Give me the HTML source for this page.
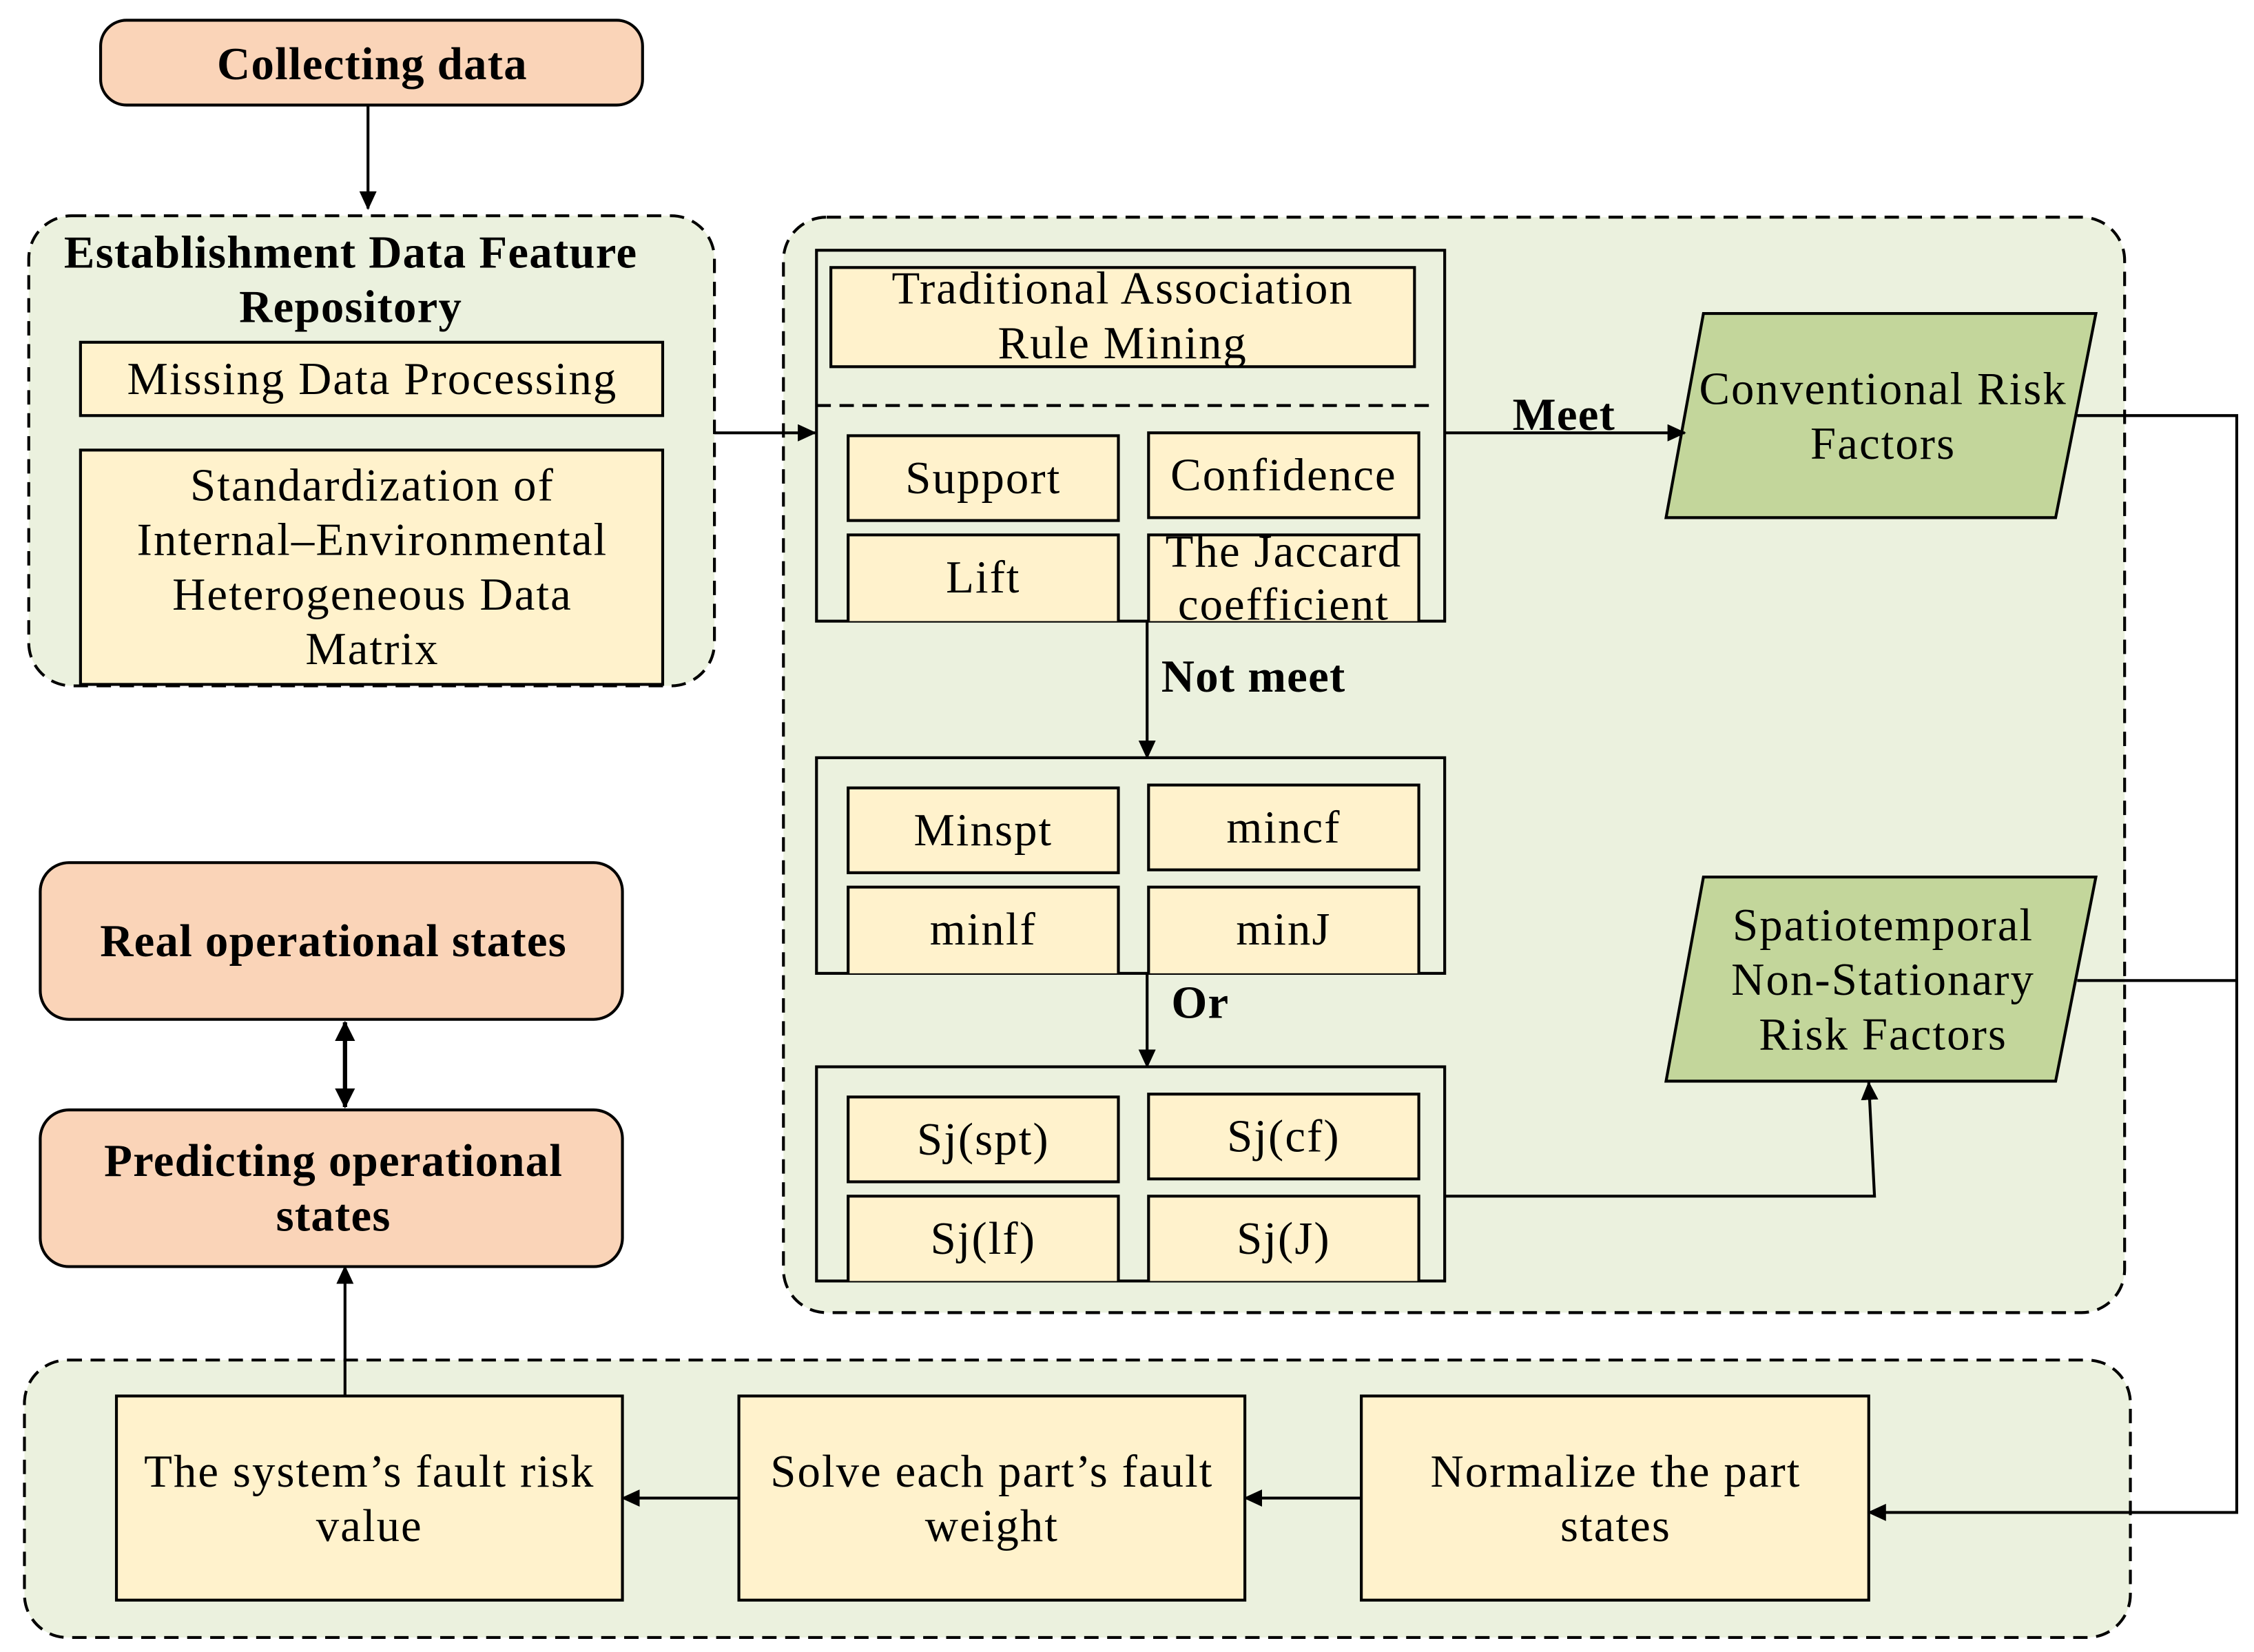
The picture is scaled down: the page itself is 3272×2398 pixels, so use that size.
<!DOCTYPE html>
<html><head><meta charset="utf-8"><style>
html,body{margin:0;padding:0;background:#fff}
svg{display:block}
text{font-family:"Liberation Serif",serif;fill:#000;text-anchor:middle;letter-spacing:1px}
.b{font-weight:bold;letter-spacing:0.6px}
</style></head><body>
<svg width="3272" height="2398" viewBox="0 0 1568 1149" xmlns="http://www.w3.org/2000/svg">
<defs>
<marker id="a" markerWidth="13" markerHeight="12" refX="12" refY="6" orient="auto" markerUnits="userSpaceOnUse" viewBox="0 0 13 12"><path d="M0,0 L13,6 L0,12 z" fill="#000"/></marker>
<marker id="as" markerWidth="14" markerHeight="14" refX="13" refY="7" orient="auto-start-reverse" markerUnits="userSpaceOnUse" viewBox="0 0 14 14"><path d="M0,0 L14,7 L0,14 z" fill="#000"/></marker>
</defs>
<g stroke="#000" stroke-width="2">
<rect x="20" y="150" width="477" height="327" rx="30" fill="#EBF1DE" stroke-dasharray="10,6"/>
<rect x="545" y="151" width="933" height="762" rx="30" fill="#EBF1DE" stroke-dasharray="10,6"/>
<rect x="17" y="946" width="1465" height="193" rx="30" fill="#EBF1DE" stroke-dasharray="10,6"/>

<rect x="70" y="14" width="377" height="59" rx="18" fill="#FAD4B8"/>
<rect x="28" y="600" width="405" height="109" rx="20" fill="#FAD4B8"/>
<rect x="28" y="772" width="405" height="109" rx="20" fill="#FAD4B8"/>

<rect x="56" y="238" width="405" height="51" fill="#FFF2CC"/>
<rect x="56" y="313" width="405" height="163" fill="#FFF2CC"/>

<rect x="568" y="174" width="437" height="258" fill="none"/>
<line x1="568" y1="282" x2="1000" y2="282" stroke-dasharray="10,6"/>
<rect x="578" y="186" width="406" height="69" fill="#FFF2CC"/>
<rect x="590" y="303" width="188" height="59" fill="#FFF2CC"/>
<rect x="799" y="301" width="188" height="59" fill="#FFF2CC"/>
<path d="M590,432 V372 H778 V432" fill="#FFF2CC"/>
<path d="M799,432 V372 H987 V432" fill="#FFF2CC"/>

<rect x="568" y="527" width="437" height="150" fill="none"/>
<rect x="590" y="548" width="188" height="59" fill="#FFF2CC"/>
<rect x="799" y="546" width="188" height="59" fill="#FFF2CC"/>
<path d="M590,677 V617 H778 V677" fill="#FFF2CC"/>
<path d="M799,677 V617 H987 V677" fill="#FFF2CC"/>

<rect x="568" y="742" width="437" height="149" fill="none"/>
<rect x="590" y="763" width="188" height="59" fill="#FFF2CC"/>
<rect x="799" y="761" width="188" height="59" fill="#FFF2CC"/>
<path d="M590,891 V832 H778 V891" fill="#FFF2CC"/>
<path d="M799,891 V832 H987 V891" fill="#FFF2CC"/>

<polygon points="1185,218 1458,218 1430,360 1159,360" fill="#C3D69B"/>
<polygon points="1185,610 1458,610 1430,752 1159,752" fill="#C3D69B"/>

<rect x="81" y="971" width="352" height="142" fill="#FFF2CC"/>
<rect x="514" y="971" width="352" height="142" fill="#FFF2CC"/>
<rect x="947" y="971" width="353" height="142" fill="#FFF2CC"/>

<line x1="256" y1="73" x2="256" y2="145" marker-end="url(#a)"/>
<line x1="497" y1="301" x2="567" y2="301" marker-end="url(#a)"/>
<line x1="1005" y1="301" x2="1172" y2="301" marker-end="url(#a)"/>
<line x1="798" y1="432" x2="798" y2="527" marker-end="url(#a)"/>
<line x1="798" y1="677" x2="798" y2="742" marker-end="url(#a)"/>
<polyline points="1005,832 1304,832 1300,753" fill="none" marker-end="url(#a)"/>
<polyline points="1445,289 1556,289 1556,1052 1300,1052" fill="none" marker-end="url(#a)"/>
<line x1="1445" y1="682" x2="1556" y2="682"/>
<line x1="947" y1="1042" x2="866" y2="1042" marker-end="url(#a)"/>
<line x1="514" y1="1042" x2="433" y2="1042" marker-end="url(#a)"/>
<line x1="240" y1="971" x2="240" y2="881" marker-end="url(#a)"/>
<line x1="240" y1="711" x2="240" y2="770" stroke-width="3" marker-start="url(#as)" marker-end="url(#as)"/>
</g>
<g font-size="32">
<text x="259" y="55" class="b">Collecting data</text>
<text x="244" y="186" class="b">Establishment Data Feature</text>
<text x="244" y="224" class="b">Repository</text>
<text x="259" y="274">Missing Data Processing</text>
<text x="259" y="348">Standardization of</text>
<text x="259" y="386">Internal–Environmental</text>
<text x="259" y="424">Heterogeneous Data</text>
<text x="259" y="462">Matrix</text>
<text x="781" y="211">Traditional Association</text>
<text x="781" y="249">Rule Mining</text>
<text x="684" y="343">Support</text>
<text x="893" y="341">Confidence</text>
<text x="684" y="412">Lift</text>
<text x="893" y="394">The Jaccard</text>
<text x="893" y="431">coefficient</text>
<text x="1088" y="299" class="b">Meet</text>
<text x="1310" y="281">Conventional Risk</text>
<text x="1310" y="319">Factors</text>
<text x="872" y="481" class="b">Not meet</text>
<text x="684" y="588">Minspt</text>
<text x="893" y="586">mincf</text>
<text x="684" y="657">minlf</text>
<text x="893" y="657">minJ</text>
<text x="835" y="708" class="b">Or</text>
<text x="684" y="803">Sj(spt)</text>
<text x="893" y="801">Sj(cf)</text>
<text x="684" y="872">Sj(lf)</text>
<text x="893" y="872">Sj(J)</text>
<text x="1310" y="654">Spatiotemporal</text>
<text x="1310" y="692">Non-Stationary</text>
<text x="1310" y="730">Risk Factors</text>
<text x="232" y="665" class="b">Real operational states</text>
<text x="232" y="818" class="b">Predicting operational</text>
<text x="232" y="856" class="b">states</text>
<text x="257" y="1034">The system’s fault risk</text>
<text x="257" y="1072">value</text>
<text x="690" y="1034">Solve each part’s fault</text>
<text x="690" y="1072">weight</text>
<text x="1124" y="1034">Normalize the part</text>
<text x="1124" y="1072">states</text>
</g>
</svg>
</body></html>
